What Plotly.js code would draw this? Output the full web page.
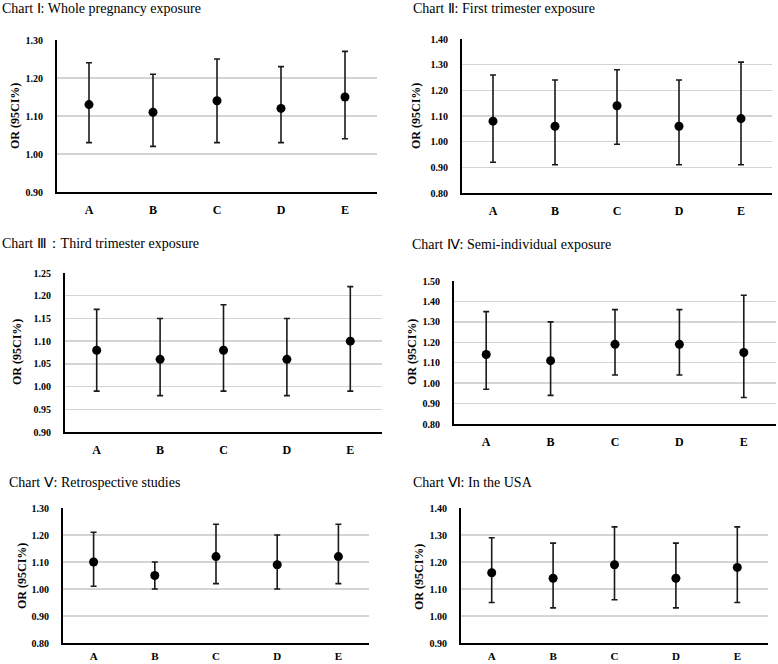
<!DOCTYPE html>
<html><head><meta charset="utf-8">
<script src="https://cdn.plot.ly/plotly-3.0.1.min.js"></script>
<style>html,body{margin:0;padding:0;background:#fff}#chart{width:778px;height:664px}</style>
</head><body><div id="chart"></div>
<script>
const categories = ['A','B','C','D','E'];
const titles = [
  'Chart Ⅰ: Whole pregnancy exposure',
  'Chart Ⅱ: First trimester exposure',
  'Chart Ⅲ：Third trimester exposure',
  'Chart Ⅳ: Semi-individual exposure',
  'Chart Ⅴ: Retrospective studies',
  'Chart Ⅵ: In the USA'
];
const orI = [1.13,1.11,1.14,1.12,1.15];
const loI = [1.03,1.02,1.03,1.03,1.04];
const hiI = [1.24,1.21,1.25,1.23,1.27];
const orII = [1.08,1.06,1.14,1.06,1.09];
const loII = [0.92,0.91,0.99,0.91,0.91];
const hiII = [1.26,1.24,1.28,1.24,1.31];
const orIII = [1.08,1.06,1.08,1.06,1.10];
const loIII = [0.99,0.98,0.99,0.98,0.99];
const hiIII = [1.17,1.15,1.18,1.15,1.22];
const orIV = [1.14,1.11,1.19,1.19,1.15];
const loIV = [0.97,0.94,1.04,1.04,0.93];
const hiIV = [1.35,1.30,1.36,1.36,1.43];
const orV = [1.10,1.05,1.12,1.09,1.12];
const loV = [1.01,1.00,1.02,1.00,1.02];
const hiV = [1.21,1.10,1.24,1.20,1.24];
const orVI = [1.16,1.14,1.19,1.14,1.18];
const loVI = [1.05,1.03,1.06,1.03,1.05];
const hiVI = [1.29,1.27,1.33,1.27,1.33];
const yRanges = [[0.90,1.30],[0.80,1.40],[0.90,1.25],[0.80,1.50],[0.80,1.30],[0.90,1.40]];
const yDticks = [0.1,0.1,0.05,0.1,0.1,0.1];
const yTitle = 'OR (95CI%)';

const series = [[orI,loI,hiI],[orII,loII,hiII],[orIII,loIII,hiIII],[orIV,loIV,hiIV],[orV,loV,hiV],[orVI,loVI,hiVI]];

// layout boxes in pixels: [x0,x1,yTop,yBottom]
const W = 778, H = 664;
const boxes = [[57,377,40,192],[462,772,39,193],[65,382,273,432],[454,776,281,424],[63,369,508,643],[461,768,508,643]];
const xStandoff = [6,6,6,6,2,2];
const titlePos = [[0,8],[411,8],[0,243],[410,244],[7,482],[411,482]];
const yTitlePos = [[15,116],[416,116],[17,352],[412,352],[22,576],[419,577]];

const FONT = 'Liberation Serif, Times New Roman, serif';
const data = [];
const layout = {
  width: W, height: H, margin: {l:0,r:0,t:0,b:0},
  paper_bgcolor: '#fff', plot_bgcolor: '#fff', showlegend: false,
  font: {family: FONT, color: '#000'},
  annotations: []
};
series.forEach((s, i) => {
  const k = i === 0 ? '' : String(i + 1);
  const [or, lo, hi] = s;
  data.push({
    type: 'scatter', mode: 'markers', x: categories, y: or,
    xaxis: 'x' + k, yaxis: 'y' + k,
    marker: {color: '#000', size: 9},
    error_y: {type: 'data', symmetric: false,
      array: hi.map((h, j) => h - or[j]),
      arrayminus: lo.map((l, j) => or[j] - l),
      color: '#1a1a1a', thickness: 1.6, width: 3},
    hoverinfo: 'x+y'
  });
  const b = boxes[i];
  layout['xaxis' + k] = {
    domain: [b[0] / W, b[1] / W], anchor: 'y' + k,
    type: 'category', range: [-0.5, 4.5],
    showline: true, linecolor: '#000', linewidth: 2,
    showgrid: false, zeroline: false, ticks: '',
    ticklabelstandoff: xStandoff[i],
    tickfont: {family: FONT, size: i >= 4 ? 11 : 12, color: '#000', weight: 'bold'},
    fixedrange: true
  };
  layout['yaxis' + k] = {
    domain: [1 - b[3] / H, 1 - b[2] / H], anchor: 'x' + k,
    range: yRanges[i], dtick: yDticks[i], tick0: 0, tickformat: '.2f',
    showline: true, linecolor: '#000', linewidth: 2,
    showgrid: true, gridcolor: '#d4d4d4', gridwidth: 1.5,
    zeroline: false, ticks: '', ticklabelstandoff: 10,
    tickfont: {family: FONT, size: 10, color: '#000', weight: 'bold'},
    fixedrange: true
  };
  layout.annotations.push({
    xref: 'paper', yref: 'paper', x: titlePos[i][0] / W, y: 1 - titlePos[i][1] / H,
    xanchor: 'left', yanchor: 'middle', showarrow: false,
    text: titles[i], font: {family: FONT, size: 14, color: '#000'}
  });
  layout.annotations.push({
    xref: 'paper', yref: 'paper', x: yTitlePos[i][0] / W, y: 1 - yTitlePos[i][1] / H,
    xanchor: 'center', yanchor: 'middle', showarrow: false, textangle: -90,
    text: yTitle, font: {family: FONT, size: 12, color: '#000', weight: 'bold'}
  });
});
Plotly.newPlot('chart', data, layout, {displayModeBar: false, staticPlot: true});
</script></body></html>
